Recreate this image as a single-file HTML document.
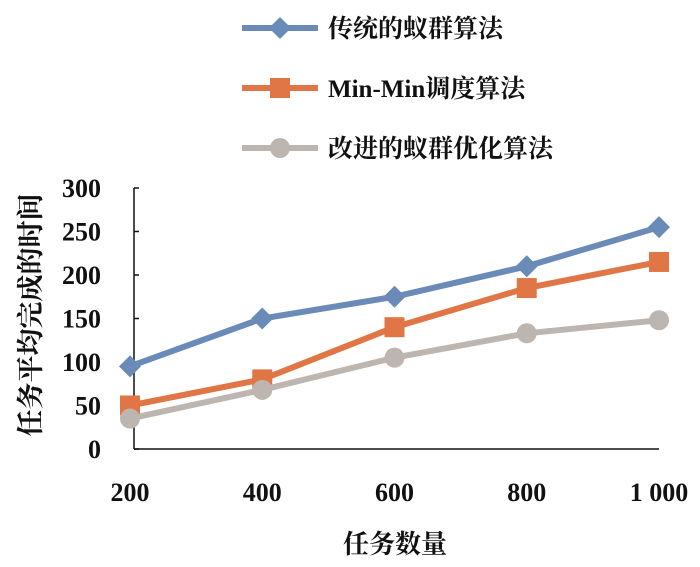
<!DOCTYPE html>
<html><head><meta charset="utf-8"><style>
body{margin:0;background:#fff}
svg text{font-family:"Liberation Serif","Noto Serif CJK SC",serif;font-weight:bold;fill:#111}
</style></head><body>
<svg width="700" height="562">
<g id="legend"></g>
<g id="axes"></g>
<g id="series"></g>
<text x="40" y="315" font-size="27" text-anchor="middle" transform="rotate(-90 40 315)">任务平均完成的时间</text>
<text x="395" y="553" font-size="26" text-anchor="middle">任务数量</text>
</svg>
<script>
const categories=["200","400","600","800","1 000"];
const yTicks=[0,50,100,150,200,250,300];
const traditional=[95,150,175,210,255];
const minmin=[50,80,140,185,215];
const improved=[35,68,105,133,148];
const names=["传统的蚁群算法","Min-Min调度算法","改进的蚁群优化算法"];
const NS="http://www.w3.org/2000/svg";
const x0=134,x1=659,yb=449,yt=188;
const xs=i=>130+i*(x1-130)/(categories.length-1);
const ys=v=>yb-v*(yb-yt)/300;
function mk(t,a,p){const e=document.createElementNS(NS,t);for(const k in a)e.setAttribute(k,a[k]);p.appendChild(e);return e;}
const axes=document.getElementById('axes');
let ya=mk('line',{x1:x0,y1:yt,x2:x0,y2:yb,stroke:'#111','stroke-width':1.5},axes);


let xa=mk('line',{x1:x0,y1:yb,x2:x1,y2:yb,stroke:'#111','stroke-width':1.5},axes);


yTicks.forEach(v=>{
 mk('line',{x1:x0,y1:ys(v),x2:x0+5,y2:ys(v),stroke:'#111','stroke-width':1.5},axes);
 const t=mk('text',{x:101,y:ys(v)+9,'font-size':26,'text-anchor':'end'},axes);t.textContent=v;
 
 
});
categories.forEach((c,i)=>{
 const t=mk('text',{x:xs(i),y:501,'font-size':26,'text-anchor':'middle'},axes);t.textContent=c;
 
 
});
const colors=["#6a8bb8","#e07646","#bdb5b0"];
const data=[traditional,minmin,improved];
const shapes=["diamond","square","circle"];
function marker(s,cx,cy,col,p){
 let e;
 if(s==="diamond")e=mk('polygon',{points:`${cx},${cy-11} ${cx+11},${cy} ${cx},${cy+11} ${cx-11},${cy}`,fill:col},p);
 else if(s==="square")e=mk('rect',{x:cx-10,y:cy-10,width:20,height:20,fill:col},p);
 else e=mk('circle',{cx:cx,cy:cy,r:10,fill:col},p);
 return e;
}
const sg=document.getElementById('series');
data.forEach((d,k)=>{
 const g=mk('g',{},sg);
 
 
 mk('polyline',{points:d.map((v,i)=>xs(i)+','+ys(v)).join(' '),fill:'none',stroke:colors[k],'stroke-width':6},g);
 d.forEach((v,i)=>{const m=marker(shapes[k],xs(i),ys(v),colors[k],g);
  
  });
});
const lg=document.getElementById('legend');
names.forEach((n,k)=>{
 const y=28+k*60;
 const g=mk('g',{},lg);
 
 
 mk('line',{x1:242,y1:y,x2:318,y2:y,stroke:colors[k],'stroke-width':6},g);
 marker(shapes[k],280,y,colors[k],g);
 const t=mk('text',{x:328,y:y+9,'font-size':25},g);t.textContent=n;
});
</script>
</body></html>
